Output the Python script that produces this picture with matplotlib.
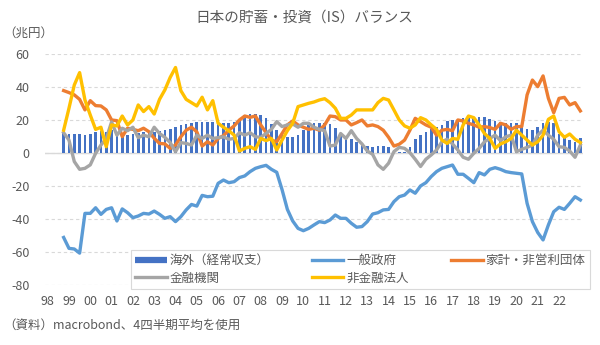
import matplotlib
matplotlib.use("Agg")
import matplotlib.pyplot as plt
from matplotlib.lines import Line2D
import numpy as np
import pandas as pd

plt.rcParams['font.family'] = ['Noto Sans CJK JP', 'DejaVu Sans']
plt.rcParams['axes.unicode_minus'] = False

# ---- data (quarterly, 4-quarter averages, trillion yen) ----
quarters = pd.period_range('1999Q1', '2023Q2', freq='Q')

kaigai = [12.5, 12, 11.5, 11.5, 11, 11.7, 12.7, 13.5, 13, 14,
          11.7, 10, 11, 11.7, 12.5, 13, 13.7, 13, 13.7, 14,
          14.5, 15.8, 17, 18, 18.5, 19, 19, 19, 19, 19,
          18.6, 18.6, 19, 20, 23, 24, 24, 23.5, 21.6, 18,
          14, 12, 10, 10, 11, 14, 17, 18.6, 18.6, 18.6,
          17.6, 15.2, 11, 8.5, 8.5, 7, 5, 4.4, 3.6, 4.4,
          4.4, 3.6, 2, 1, 1, 4, 8.5, 11, 13, 14.5,
          15.8, 17.2, 19.6, 20.2, 20.8, 21.2, 21.8, 22.2, 22.2, 22.2,
          20.8, 19.6, 18.8, 18.2, 18.2, 18.6, 15.8, 14.5, 14.1, 15.8,
          18.2, 19.2, 18.2, 12, 11, 8, 7, 9]

ippan_seifu = [-51, -57.6, -58, -60.5, -36.4, -36.4, -33, -37, -34, -33,
               -41, -33.7, -36, -39, -38, -36.4, -36.8, -35, -37, -39.4,
               -38.4, -41.4, -38.4, -34.3, -31, -32, -25.5, -26.3, -26, -18.2,
               -16.2, -17.8, -17.2, -14.7, -13.7, -11.1, -9.1, -8.1, -7.3, -9.7,
               -11.5, -22, -34, -41, -45.5, -46.9, -45.5, -43.4, -41.4, -42,
               -40.4, -37.4, -39.4, -39.4, -42.4, -44.8, -44.4, -41.4, -36.8, -36,
               -34.3, -34, -29.3, -26.3, -25.3, -22.2, -24.2, -19.8, -17.8, -14.1,
               -11.1, -9.1, -8.1, -7.1, -12.7, -12.7, -15.2, -17.8, -11.7, -13.1,
               -9.7, -8.7, -9.7, -11.1, -11.7, -12.1, -12.5, -30.3, -41.4, -48,
               -52.5, -43.4, -35.4, -32.7, -34, -30.3, -26.3, -28.3]

kakei = [38, 36.8, 35.4, 32.7, 26.3, 31.9, 28.9, 28.7, 26.3, 20.2,
         19.8, 10.1, 15.2, 14.5, 13.7, 15.2, 13.1, 9.1, 6, 5.7,
         3, 5, 10, 14, 15.8, 13, 4.4, 7, 5, 9,
         10.7, 14, 16.6, 20.2, 22.6, 21.8, 22.6, 17.2, 12.5, 8,
         7, 12, 17.2, 19.6, 17.2, 15.8, 14.5, 15.2, 14, 17.2,
         22.6, 22.2, 20.2, 20.2, 17.2, 18.6, 20.2, 16.6, 17.2, 16.2,
         14, 9.7, 4.4, 5.5, 8, 14, 21.2, 19.2, 17.2, 15.8,
         11, 14, 14.5, 13.7, 20.2, 19.6, 18.2, 17.2, 15.8, 16.2,
         15.6, 14.5, 18.2, 17.2, 14.5, 16.2, 16.2, 35.4, 44.4, 40.4,
         46.9, 33.3, 24.6, 33.3, 33.9, 29.3, 30.7, 25.7]

kinyu = [12.5, 8, -5, -9.7, -9.1, -7, 0, 5, 9, 19,
         11, 15.2, 13.7, 15.8, 9.5, 11, 10, 15.8, 12, 9.7,
         6.5, 1, 6.5, 6, 5, 11, 9, 11, 9, 9.5,
         10, 8.5, 9, 12.5, 11, 12.5, 10, 9.7, 12, 14.5,
         19.2, 16.2, 17.2, 17.8, 15.8, 18.2, 18.2, 15.8, 14.5, 13.7,
         4.4, 5, 12, 9, 13.7, 9, 5.7, 1.4, -0.6, -7,
         -9.7, -6, 1, 3.6, 3, 0.4, -3.6, -8, -3.6, -1,
         2, 7, 8.5, 5.7, 2, -2.4, -3.6, 0, 3, 7,
         9, 11, 7.7, 10, 11, 1, 2.4, 3.6, 5, 11,
         14, 11, 8.5, 4, 3.6, 1.4, -2.4, 5]

hikinyu = [14, 27.3, 41.4, 48.9, 32.3, 23.2, 14.5, 15.8, 4, 17.2,
           16.6, 22.6, 17.2, 20.2, 29.3, 25.3, 28.3, 23.8, 32.7, 38.4,
           46, 52, 38, 32.7, 30.7, 28.7, 34, 26.3, 31.9, 18.2,
           15.8, 13.7, 11, 1.4, 3, 4, 2.4, 9, 7.7, 9,
           2, 8, 13.7, 18.2, 28.3, 29.3, 30.3, 31.1, 32.3, 33.1,
           30.7, 27.3, 21.2, 21.2, 23.2, 26.3, 26.3, 26.3, 26.3, 30.7,
           33.3, 32.3, 26.3, 20.2, 16.6, 15.2, 17.2, 21.6, 20.2, 17.2,
           14.5, 8, 6, 9, 8.5, 17.2, 22.6, 21.6, 17.2, 12,
           9, 3, 5.7, 7, 9, 14, 11, 8, 5, 7,
           11, 20.6, 22.6, 13.1, 9.7, 11.7, 8.5, 6.5]

year_labels = [f"{y % 100:02d}" for y in range(1998, 2023)]
series_names = ['海外（経常収支）', '一般政府', '家計・非営利団体', '金融機関', '非金融法人']
colors = ['#4472C4', '#5B9BD5', '#ED7D31', '#A5A5A5', '#FFC000']

# ---- figure ----
fig = plt.figure(figsize=(6, 3.45), dpi=100)
ax = fig.add_axes([0.075, 0.173, 0.8967, 0.6696])

x = np.arange(len(quarters))
ax.bar(x, kaigai, width=0.5, color=colors[0], zorder=2)
for vals, c in zip([ippan_seifu, kakei, kinyu, hikinyu], colors[1:]):
    ax.plot(x, vals, color=c, lw=2.4, zorder=3, solid_joinstyle='round')

ax.set_ylim(-80, 60)
ax.set_yticks(np.arange(-80, 61, 20))
ax.set_yticklabels([str(v) for v in range(-80, 61, 20)])
ax.set_xlim(-3.5, len(quarters) - 0.5)
tick_pos = [(int(('19' if int(l) > 50 else '20') + l) - 1999) * 4 + 1 for l in year_labels]
ax.set_xticks(tick_pos)
ax.set_xticklabels(year_labels)

for s in ax.spines.values():
    s.set_visible(False)
ax.tick_params(axis='both', length=0, labelsize=9, colors='#595959')
ax.tick_params(axis='y', pad=11)
ax.tick_params(axis='x', pad=7)
ax.yaxis.grid(True, linestyle=(0, (3, 2.5)), color='#D9D9D9', lw=0.8, zorder=0)
ax.set_axisbelow(True)
ax.axhline(0, color='#D9D9D9', lw=1.0, zorder=1)

# legend (column-major order to give the reference row layout)
h = [Line2D([], [], color=colors[0], lw=4.5, solid_capstyle='butt'),
     Line2D([], [], color=colors[1], lw=2.4),
     Line2D([], [], color=colors[2], lw=2.4),
     Line2D([], [], color=colors[3], lw=2.4),
     Line2D([], [], color=colors[4], lw=2.4)]
order = [0, 3, 1, 4, 2]
leg = ax.legend([h[i] for i in order], [series_names[i] for i in order],
                ncol=3, mode='expand', loc='lower left',
                bbox_to_anchor=(0.16, -0.016, 0.853, 0.15), borderaxespad=0,
                fontsize=9, frameon=True, fancybox=False, framealpha=1,
                edgecolor='#D9D9D9', handlelength=2.5, handletextpad=0.25,
                labelspacing=0.35, borderpad=0.35, labelcolor='#595959')
leg.get_frame().set_linewidth(0.8)
leg.set_zorder(5)

fig.text(0.508, 1 - 18 / 345, '日本の貯蓄・投資（IS）バランス', ha='center', va='center',
         fontsize=10.5, color='#595959')
fig.text(0.006, 1 - 33 / 345, '（兆円）', ha='left', va='center', fontsize=9, color='#595959')
fig.text(0.006, 1 - 325 / 345, '（資料）macrobond、4四半期平均を使用', ha='left', va='center',
         fontsize=9, color='#595959')

fig.savefig('out.png', dpi=100)
